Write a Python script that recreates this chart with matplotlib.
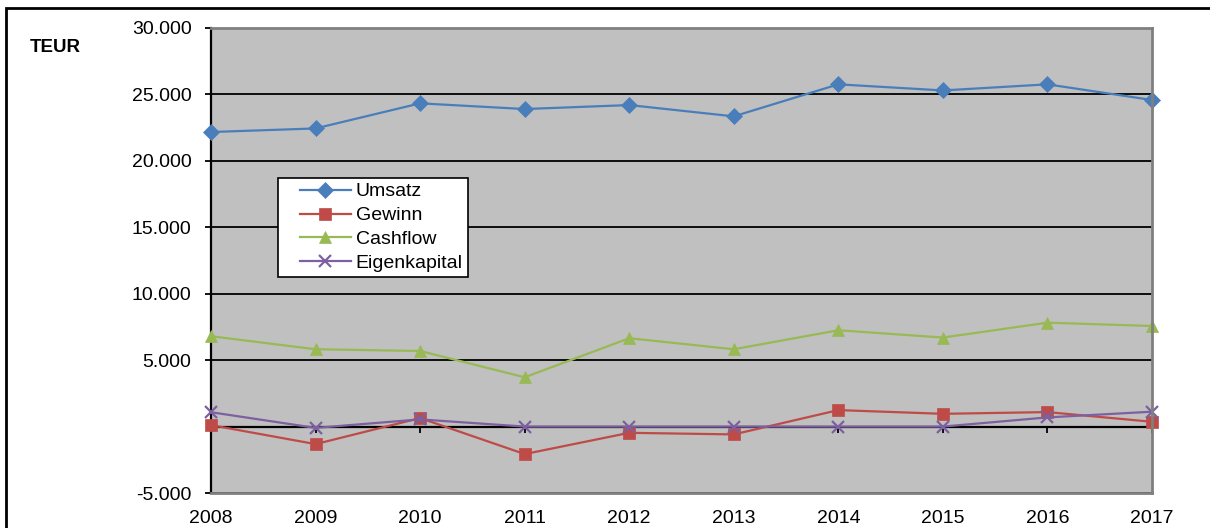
import matplotlib
matplotlib.use('Agg')
import matplotlib.pyplot as plt
from matplotlib.lines import Line2D
from matplotlib.legend_handler import HandlerLine2D
from matplotlib.patches import Rectangle
from matplotlib.ticker import FuncFormatter

plt.rcParams['font.family'] = ['Liberation Sans', 'DejaVu Sans']

# Data (TEUR).
years = ['2008', '2009', '2010', '2011', '2012', '2013', '2014', '2015', '2016', '2017']
umsatz = [22170, 22440, 24330, 23900, 24200, 23350, 25760, 25300, 25760, 24580]
gewinn = [110, -1320, 640, -2070, -470, -590, 1240, 960, 1090, 360]
cashflow = [6800, 5820, 5690, 3710, 6650, 5820, 7250, 6700, 7820, 7570]
eigenkapital = [1080, -100, 540, 0, 0, 0, 0, 0, 690, 1120]
yticks = [-5000, 5000, 10000, 15000, 20000, 25000, 30000]

W, H = 1210, 528
fig = plt.figure(figsize=(W / 100, H / 100), dpi=100)
ax = fig.add_axes([211 / W, 1 - 493 / H, (1152 - 211) / W, (493 - 28) / H])
ax.set_facecolor('#c0c0c0')

x = list(range(len(years)))
series = [
    ('Umsatz', umsatz, '#4a7ebb', 'D', 8),
    ('Gewinn', gewinn, '#be4b48', 's', 8.5),
    ('Cashflow', cashflow, '#98b954', '^', 9),
    ('Eigenkapital', eigenkapital, '#7d60a0', 'x', 9),
]
for label, vals, color, marker, ms in series:
    ax.plot(x, vals, color=color, marker=marker, markersize=ms, lw=1.6,
            mew=1.6 if marker == 'x' else 0.5, mec=color, label=label,
            clip_on=False, zorder=3)

ax.set_xlim(0, len(years) - 1)
ax.set_ylim(-5000, 30000)

# y axis: German number format, no label at zero
ax.set_yticks(yticks)
ax.yaxis.set_major_formatter(FuncFormatter(lambda v, p: f'{v:,.0f}'.replace(',', '.')))
ax.tick_params(axis='y', direction='out', length=4.5, width=1.3, pad=9.5,
               labelsize=14, color='black')
ax.grid(axis='y', color='black', lw=1.3, zorder=1)
ax.set_axisbelow(True)

# x axis line sits at zero, ticks hang down, labels below the plot area
ax.spines['bottom'].set_position(('data', 0))
ax.spines['bottom'].set_linewidth(1.6)
ax.spines['left'].set_linewidth(1.6)
ax.spines['top'].set_visible(False)
ax.spines['right'].set_visible(False)
ax.set_xticks(x)
ax.tick_params(axis='x', direction='out', length=4, width=1.3, labelbottom=False)

ax2 = ax.twiny()
ax2.set_xlim(ax.get_xlim())
ax2.xaxis.set_ticks_position('bottom')
ax2.xaxis.set_label_position('bottom')
ax2.set_xticks(x)
ax2.set_xticklabels(years)
ax2.tick_params(axis='x', length=0, pad=12.5, labelsize=14)
for side in ('top', 'right', 'bottom'):
    ax2.spines[side].set_color('#808080')
    ax2.spines[side].set_linewidth(2)
ax2.spines['left'].set_visible(False)

fig.text(30 / W, 1 - 48 / H, 'TEUR', fontsize=13.5, fontweight='bold', va='center', ha='left')

leg = ax.legend(loc='upper left', bbox_to_anchor=(278 / W, 1 - 178 / H),
                bbox_transform=fig.transFigure, borderaxespad=0, fontsize=14,
                frameon=True, fancybox=False, framealpha=1, edgecolor='black',
                borderpad=0.25, labelspacing=0.32, handlelength=3.5,
                handletextpad=0.25,
                handler_map={Line2D: HandlerLine2D(xpad=0.86)})
leg.get_frame().set_linewidth(1.2)
leg.set_zorder(10)

# outer chart frame (cut by the image edges on the right and bottom)
fig.patches.append(Rectangle((6 / W, -0.2), 1.2, 1.2 - 8 / H, transform=fig.transFigure,
                             fill=False, edgecolor='black', lw=2, clip_on=False))

plt.savefig('out.png', dpi=100)
